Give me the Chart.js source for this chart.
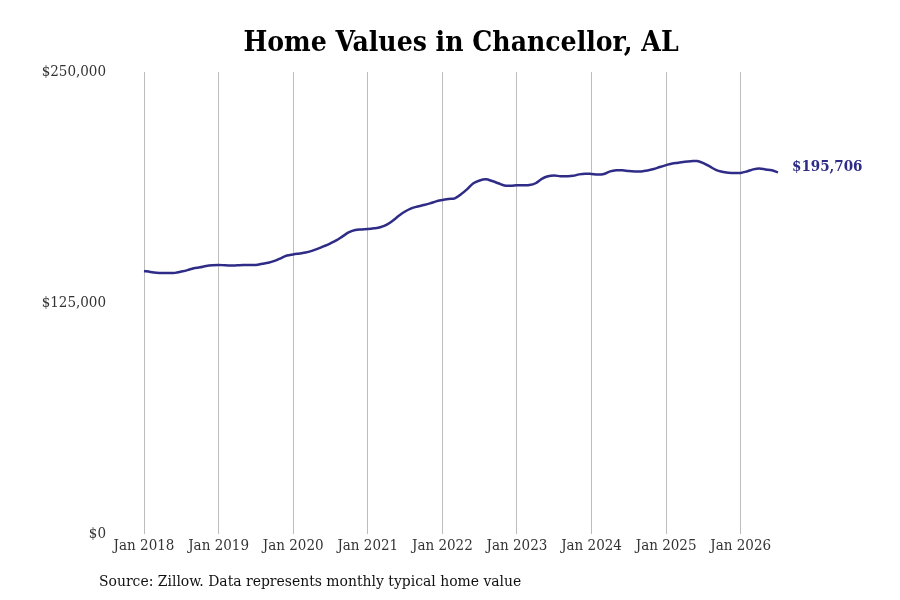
<!DOCTYPE html>
<html>
<head>
<meta charset="utf-8">
<title>Home Values in Chancellor, AL</title>
<script src="https://cdn.jsdelivr.net/npm/chart.js@4.4.1/dist/chart.umd.min.js"></script>
<style>
  html, body { margin: 0; padding: 0; background: #fff; }
  #wrap { width: 900px; height: 600px; position: relative; }
</style>
</head>
<body>
<div id="wrap"><canvas id="homeValuesChart"></canvas></div>
<script>
'use strict';

// Data (Zillow typical home value, monthly, Jan 2018 - Jul 2026)
const monthLabels = [];
const startYear = 2018;
const monthCount = 103;
const monthNames = ['Jan', 'Feb', 'Mar', 'Apr', 'May', 'Jun', 'Jul', 'Aug', 'Sep', 'Oct', 'Nov', 'Dec'];
for (let i = 0; i < monthCount; i++) {
  monthLabels.push(monthNames[i % 12] + ' ' + (startYear + Math.floor(i / 12)));
}

const homeValues = [
  // 2018
  142300, 141800, 141400, 141200, 141200, 141300, 142000, 142800, 143800, 144300, 145000, 145400,
  // 2019
  145600, 145400, 145300, 145400, 145500, 145500, 145600, 146200, 146800, 147800, 149200, 150700,
  // 2020
  151300, 151800, 152300, 153200, 154400, 155800, 157300, 159000, 161200, 163300, 164500, 164800,
  // 2021
  165000, 165400, 166000, 167300, 169500, 172200, 174500, 176200, 177200, 178000, 178900, 180000,
  // 2022
  180700, 181300, 181600, 183800, 186600, 189800, 191300, 191900, 191000, 189800, 188600, 188500,
  // 2023
  188700, 188700, 188800, 189800, 192200, 193600, 194000, 193600, 193600, 193800, 194600, 195000,
  // 2024
  194800, 194500, 194800, 196200, 196800, 196800, 196400, 196200, 196200, 196700, 197500, 198600,
  // 2025
  199600, 200500, 200900, 201400, 201700, 201800, 200700, 198900, 197000, 196000, 195500, 195300,
  // 2026
  195400, 196200, 197300, 197800, 197300, 196800, 195706
];

const yTicks = [0, 125000, 250000];

const colors = {
  line: '#2e2c86',
  grid: '#bdbdbd',
  tickText: '#333333',
  title: '#000000',
  source: '#111111'
};

const serif = '"DejaVu Serif Condensed", "DejaVu Serif", serif';

function formatMoney(v) {
  return '$' + Math.round(v).toLocaleString('en-US');
}

// Title, source note and end label
const annotationsPlugin = {
  id: 'annotations',
  afterDraw(chart) {
    const ctx = chart.ctx;
    const area = chart.chartArea;
    ctx.save();

    // title
    ctx.fillStyle = colors.title;
    ctx.font = 'bold 28px ' + serif;
    ctx.textAlign = 'center';
    ctx.textBaseline = 'middle';
    ctx.fillText('Home Values in Chancellor, AL', (area.left + area.right) / 2, 44);

    // source
    ctx.fillStyle = colors.source;
    ctx.font = '15.5px ' + serif;
    ctx.textAlign = 'left';
    ctx.fillText('Source: Zillow. Data represents monthly typical home value', 99, 582);

    // last value label
    const meta = chart.getDatasetMeta(0);
    const last = meta.data[meta.data.length - 1];
    ctx.fillStyle = colors.line;
    ctx.font = 'bold 15px ' + serif;
    ctx.fillText(formatMoney(homeValues[homeValues.length - 1]), last.x + 14, last.y - 5);

    ctx.restore();
  }
};

function initializeChart() {
  const ctx = document.getElementById('homeValuesChart').getContext('2d');
  new Chart(ctx, {
    type: 'line',
    data: {
      labels: monthLabels,
      datasets: [{
        label: 'Typical Home Value',
        data: homeValues,
        borderColor: colors.line,
        backgroundColor: colors.line,
        borderWidth: 2.5,
        pointRadius: 0,
        tension: 0.35,
        fill: false
      }]
    },
    options: {
      responsive: true,
      maintainAspectRatio: false,
      animation: false,
      layout: {
        padding: { top: 72, right: 122, bottom: 0, left: 0 }
      },
      plugins: {
        legend: { display: false },
        title: { display: false },
        tooltip: { enabled: false }
      },
      scales: {
        x: {
          type: 'category',
          offset: false,
          afterFit(scale) { scale.height = 66; },
          border: { display: false },
          grid: {
            drawTicks: false,
            lineWidth: 1,
            color: c => (c.index % 12 === 0 ? colors.grid : 'rgba(0,0,0,0)')
          },
          ticks: {
            autoSkip: false,
            maxRotation: 0,
            padding: 3,
            color: colors.tickText,
            font: { family: serif, size: 15 },
            callback(value, index) {
              return index % 12 === 0 ? monthLabels[index] : '';
            }
          }
        },
        y: {
          min: 0,
          max: 250000,
          afterFit(scale) { scale.width = 144; },
          afterBuildTicks(scale) {
            scale.ticks = yTicks.map(v => ({ value: v }));
          },
          border: { display: false },
          grid: { display: false, drawTicks: false },
          ticks: {
            padding: 38,
            color: colors.tickText,
            font: { family: serif, size: 15 },
            callback: v => formatMoney(v)
          }
        }
      }
    },
    plugins: [annotationsPlugin]
  });
}

initializeChart();
</script>
</body>
</html>
